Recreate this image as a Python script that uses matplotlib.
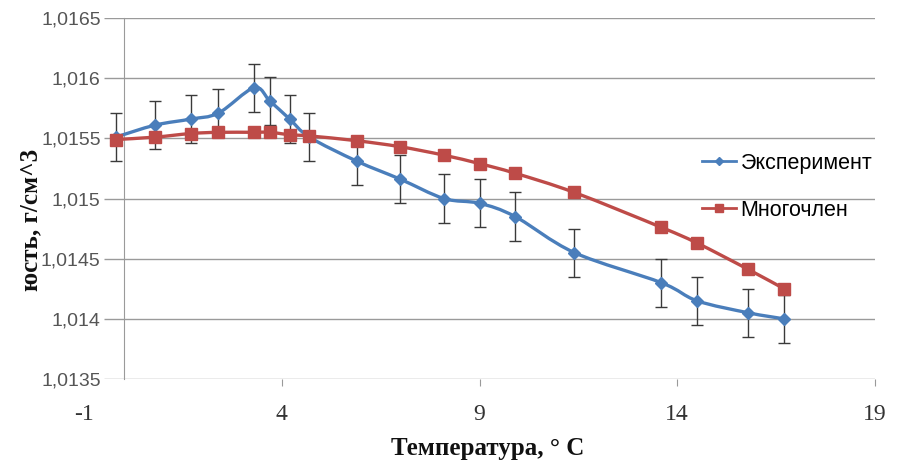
import numpy as np
import matplotlib.pyplot as plt
from matplotlib.path import Path
from matplotlib.patches import PathPatch
from matplotlib.ticker import FuncFormatter

plt.rcParams['axes.unicode_minus'] = False

# data
temp = [-0.2, 0.8, 1.7, 2.4, 3.3, 3.7, 4.2, 4.7, 5.9, 7.0, 8.1, 9.0, 9.9,
        11.4, 13.6, 14.5, 15.8, 16.7]
dens_exp = [1.01551, 1.01561, 1.01566, 1.01571, 1.01592, 1.01581, 1.01566,
            1.01551, 1.01531, 1.01516, 1.01500, 1.01496, 1.01485, 1.01455,
            1.01430, 1.01415, 1.01405, 1.01400]
err_exp = [0.0002] * len(temp)
dens_poly = [1.01549, 1.01551, 1.01554, 1.01555, 1.01555, 1.01555, 1.01553,
             1.01552, 1.01548, 1.01543, 1.01536, 1.01529, 1.01521, 1.01505,
             1.01476, 1.01463, 1.01441, 1.01425]

x_ticks = [-1, 4, 9, 14, 19]
y_ticks = [1.0135, 1.014, 1.0145, 1.015, 1.0155, 1.016, 1.0165]

BLUE = '#4A7EBB'
RED = '#BE4B48'


def smooth_path(x, y):
    # excel-like smoothed line: cubic bezier with catmull-rom control points
    x = np.asarray(x, float)
    y = np.asarray(y, float)
    n = len(x)
    verts = [(x[0], y[0])]
    codes = [Path.MOVETO]
    for i in range(n - 1):
        i0 = max(i - 1, 0)
        i3 = min(i + 2, n - 1)
        c1 = (x[i] + (x[i + 1] - x[i0]) / 6.0, y[i] + (y[i + 1] - y[i0]) / 6.0)
        c2 = (x[i + 1] - (x[i3] - x[i]) / 6.0, y[i + 1] - (y[i3] - y[i]) / 6.0)
        verts += [c1, c2, (x[i + 1], y[i + 1])]
        codes += [Path.CURVE4] * 3
    return Path(verts, codes)


fig = plt.figure(figsize=(9, 4.66), dpi=100)
ax = fig.add_axes([84 / 900, 1 - 379 / 466, (875 - 84) / 900, (379 - 18) / 466])
ax.set_xlim(-1, 19)
ax.set_ylim(1.0135, 1.0165)

# gridlines (they start a bit left of the y axis, like in the original)
ax.hlines(y_ticks, -0.5, 19, colors='#9a9a9a', lw=1, zorder=0)

for s in ['top', 'right', 'bottom']:
    ax.spines[s].set_visible(False)
ax.spines['left'].set_position(('data', 0))
ax.spines['left'].set_color('#9a9a9a')

ax.set_xticks(x_ticks)
ax.set_yticks(y_ticks)
ax.yaxis.set_major_formatter(FuncFormatter(lambda v, p: ('%.4f' % v).rstrip('0').replace('.', ',')))
ax.tick_params(axis='y', length=0, pad=16.5, labelsize=14, labelcolor='#555555')
ax.tick_params(axis='x', length=5, color='#9a9a9a', pad=13, labelsize=17, labelcolor='#333333')
for lab in ax.get_xticklabels():
    lab.set_family('Liberation Serif')
for lab in ax.get_yticklabels():
    lab.set_family('Liberation Sans')
ax.xaxis.get_major_ticks()[0].tick1line.set_visible(False)

# experiment
ax.add_patch(PathPatch(smooth_path(temp, dens_exp), fill=False, ec=BLUE, lw=2.4, zorder=3))
ax.errorbar(temp, dens_exp, yerr=err_exp, fmt='none', ecolor='#3a3a3a',
            elinewidth=1, capsize=4, capthick=1, zorder=3)
ax.plot(temp, dens_exp, 'D', color=BLUE, ms=6.5, zorder=4)

# polynomial
ax.add_patch(PathPatch(smooth_path(temp, dens_poly), fill=False, ec=RED, lw=2.4, zorder=5))
ax.plot(temp, dens_poly, 's', color=RED, ms=8.5, zorder=6)

h1, = ax.plot([], [], '-D', color=BLUE, lw=2, ms=4, label='Эксперимент')
h2, = ax.plot([], [], '-s', color=RED, lw=2, ms=6, label='Многочлен')
fig.legend(handles=[h1, h2], loc='center left', bbox_to_anchor=(0.768, 0.599),
           frameon=False, prop={'family': 'Liberation Sans', 'size': 15.5},
           handlelength=1.6, handletextpad=0.2, labelspacing=1.2, borderpad=0)

fig.text(488 / 900, 1 - 448 / 466, 'Температура, ° С', ha='center', va='center',
         family='Liberation Serif', weight='bold', size=18, color='#111111')
fig.text(31 / 900, 1 - 220 / 466, 'юсть, г/см^3', ha='center', va='center', rotation=90,
         family='Liberation Serif', weight='bold', size=18, color='#111111')

fig.savefig('out.png', dpi=100)
